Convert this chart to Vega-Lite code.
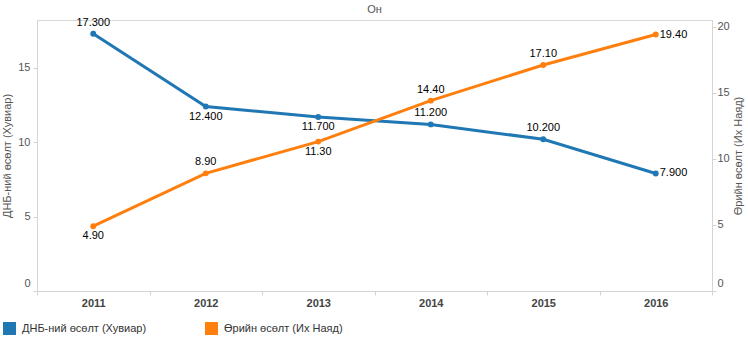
{
  "$schema": "https://vega.github.io/schema/vega-lite/v6.json",
  "width": 675,
  "height": 271,
  "autosize": {"type": "none"},
  "padding": {"left": 37, "top": 20, "right": 36, "bottom": 48},
  "background": "white",
  "title": {"text": "Он", "fontSize": 11, "fontWeight": "normal", "color": "#555555", "font": "Liberation Sans", "offset": 2, "anchor": "middle"},
  "config": {
    "view": {"stroke": "#d9d9d9"},
    "font": "Liberation Sans",
    "axis": {"grid": false, "domainColor": "#d4d4d4", "tickColor": "#d4d4d4", "tickSize": 4, "labelColor": "#555555", "labelFontSize": 11, "labelFont": "Liberation Sans", "titleFont": "Liberation Sans", "titleFontSize": 11, "titleFontWeight": "normal", "titleColor": "#555555"}
  },
  "data": {
    "values": [
      {"year": "2011", "measure": "gdp", "series": "ДНБ-ний  өсөлт (Хувиар)", "value": 17.3},
      {"year": "2012", "measure": "gdp", "series": "ДНБ-ний  өсөлт (Хувиар)", "value": 12.4},
      {"year": "2013", "measure": "gdp", "series": "ДНБ-ний  өсөлт (Хувиар)", "value": 11.7},
      {"year": "2014", "measure": "gdp", "series": "ДНБ-ний  өсөлт (Хувиар)", "value": 11.2},
      {"year": "2015", "measure": "gdp", "series": "ДНБ-ний  өсөлт (Хувиар)", "value": 10.2},
      {"year": "2016", "measure": "gdp", "series": "ДНБ-ний  өсөлт (Хувиар)", "value": 7.9},
      {"year": "2011", "measure": "debt", "series": "Өрийн өсөлт (Их Наяд)", "value": 4.9},
      {"year": "2012", "measure": "debt", "series": "Өрийн өсөлт (Их Наяд)", "value": 8.9},
      {"year": "2013", "measure": "debt", "series": "Өрийн өсөлт (Их Наяд)", "value": 11.3},
      {"year": "2014", "measure": "debt", "series": "Өрийн өсөлт (Их Наяд)", "value": 14.4},
      {"year": "2015", "measure": "debt", "series": "Өрийн өсөлт (Их Наяд)", "value": 17.1},
      {"year": "2016", "measure": "debt", "series": "Өрийн өсөлт (Их Наяд)", "value": 19.4}
    ]
  },
  "encoding": {
    "x": {
      "field": "year", "type": "ordinal",
      "scale": {"type": "band", "paddingInner": 0, "paddingOuter": 0},
      "axis": {"title": null, "labelAngle": 0, "labelFontWeight": "bold", "labelColor": "#444444", "tickBand": "extent", "labelPadding": 2}
    }
  },
  "layer": [
    {
      "transform": [{"filter": {"field": "measure", "equal": "gdp"}}],
      "encoding": {
        "y": {
          "field": "value", "type": "quantitative",
          "scale": {"domain": [0, 18.22], "nice": false, "zero": false},
          "axis": {"orient": "left", "title": "ДНБ-ний  өсөлт (Хувиар)", "values": [0, 5, 10, 15], "labelFlush": true, "labelFlushOffset": -3, "labelPadding": 3, "titlePadding": 5}
        }
      },
      "layer": [
        {"mark": {"type": "line", "color": "#1f77b4", "strokeWidth": 3}, "encoding": {}},
        {"mark": {"type": "point", "filled": true, "opacity": 1, "size": 35},
         "encoding": {"color": {"field": "series", "type": "nominal", "scale": {"domain": ["ДНБ-ний  өсөлт (Хувиар)", "Өрийн өсөлт (Их Наяд)"], "range": ["#1f77b4", "#ff7f0e"]},
           "legend": {"title": null, "orient": "none", "legendX": -34, "legendY": 302, "direction": "horizontal", "symbolType": "square", "symbolSize": 169, "symbolStrokeWidth": 0, "labelFontSize": 11, "labelColor": "#333333", "labelFont": "Liberation Sans", "columnPadding": 55, "labelOffset": 6}}}},
        {"transform": [{"filter": {"field": "year", "oneOf": ["2011", "2014", "2015"]}}],
         "mark": {"type": "text", "dy": -11, "baseline": "middle", "fontSize": 11, "color": "#000000"},
         "encoding": {"text": {"field": "value", "type": "quantitative", "format": ".3f"}}},
        {"transform": [{"filter": {"field": "year", "oneOf": ["2012", "2013"]}}],
         "mark": {"type": "text", "dy": 10, "baseline": "middle", "fontSize": 11, "color": "#000000"},
         "encoding": {"text": {"field": "value", "type": "quantitative", "format": ".3f"}}},
        {"transform": [{"filter": {"field": "year", "oneOf": ["2016"]}}],
         "mark": {"type": "text", "dx": 4, "align": "left", "baseline": "middle", "fontSize": 11, "color": "#000000"},
         "encoding": {"text": {"field": "value", "type": "quantitative", "format": ".3f"}}}
      ]
    },
    {
      "transform": [{"filter": {"field": "measure", "equal": "debt"}}],
      "encoding": {
        "y": {
          "field": "value", "type": "quantitative",
          "scale": {"domain": [0, 20.5], "nice": false, "zero": false},
          "axis": {"orient": "right", "title": "Өрийн өсөлт (Их Наяд)", "values": [0, 5, 10, 15, 20], "labelFlush": true, "labelFlushOffset": -3, "labelPadding": 1, "titlePadding": 14, "titleAngle": 270}
        }
      },
      "layer": [
        {"mark": {"type": "line", "color": "#ff7f0e", "strokeWidth": 3}, "encoding": {}},
        {"mark": {"type": "point", "filled": true, "opacity": 1, "size": 35},
         "encoding": {"color": {"field": "series", "type": "nominal"}}},
        {"transform": [{"filter": {"field": "year", "oneOf": ["2012", "2014", "2015"]}}],
         "mark": {"type": "text", "dy": -11, "baseline": "middle", "fontSize": 11, "color": "#000000"},
         "encoding": {"text": {"field": "value", "type": "quantitative", "format": ".2f"}}},
        {"transform": [{"filter": {"field": "year", "oneOf": ["2011", "2013"]}}],
         "mark": {"type": "text", "dy": 10, "baseline": "middle", "fontSize": 11, "color": "#000000"},
         "encoding": {"text": {"field": "value", "type": "quantitative", "format": ".2f"}}},
        {"transform": [{"filter": {"field": "year", "oneOf": ["2016"]}}],
         "mark": {"type": "text", "dx": 4, "align": "left", "baseline": "middle", "fontSize": 11, "color": "#000000"},
         "encoding": {"text": {"field": "value", "type": "quantitative", "format": ".2f"}}}
      ]
    }
  ],
  "resolve": {"scale": {"y": "independent"}}
}
